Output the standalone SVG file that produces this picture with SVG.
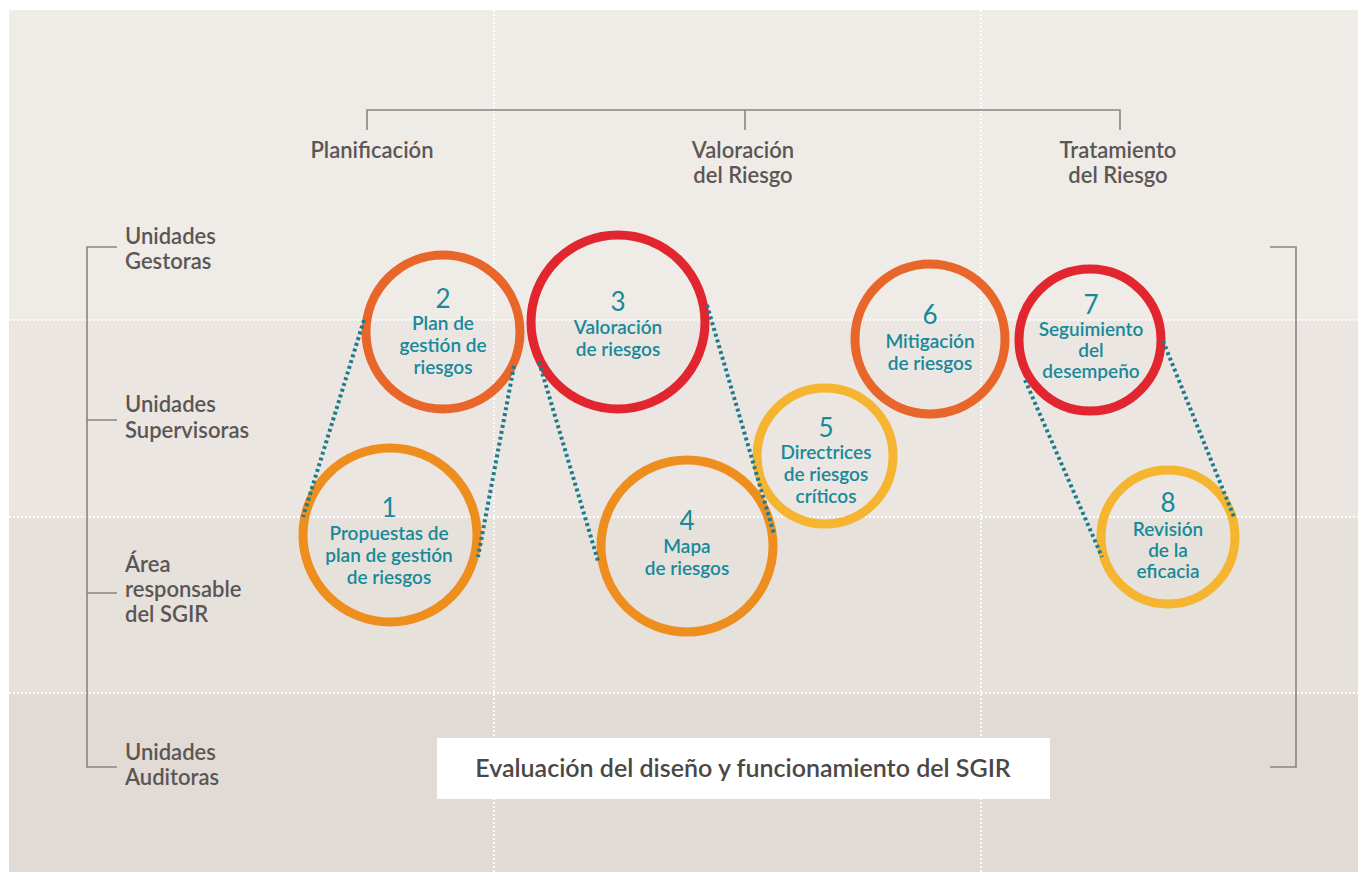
<svg xmlns="http://www.w3.org/2000/svg" width="1358" height="872" viewBox="0 0 1358 872">
<style>
.grid{stroke:#ffffff;stroke-width:2;stroke-dasharray:2 2;opacity:0.85;fill:none}
.brk{stroke:#8a8482;stroke-width:1.6;fill:none}
.hdr{font-family:Lato,"Liberation Sans",sans-serif;font-size:22px;font-weight:600;fill:#5b5656;text-anchor:middle}
.lbl{font-family:Lato,"Liberation Sans",sans-serif;font-size:22px;font-weight:600;fill:#5b5656}
.ring{fill:none;stroke-width:9}
.c-or{stroke:#e9662a}
.c-rd{stroke:#e1262f}
.c-am{stroke:#ee8e1f}
.c-ye{stroke:#f5b530}
.num{font-family:Lato,"Liberation Sans",sans-serif;font-size:26px;fill:#17899a;text-anchor:middle}
.txt{font-family:Lato,"Liberation Sans",sans-serif;font-size:19px;font-weight:600;fill:#17899a;text-anchor:middle}
.dot{stroke:#1c7c8c;stroke-width:4;stroke-dasharray:3 3;fill:none}
.eval{font-family:Lato,"Liberation Sans",sans-serif;font-size:25px;font-weight:600;fill:#4c4747;text-anchor:middle}
</style>
<g id="background">
<rect x="0" y="0" width="1358" height="872" fill="#ffffff"/>
<rect x="9" y="10" width="1349" height="310" fill="#efebe6"/>
<rect x="9" y="320" width="1349" height="197" fill="#ebe6e1"/>
<rect x="9" y="517" width="1349" height="176" fill="#e7e1db"/>
<rect x="9" y="693" width="1349" height="179" fill="#e2dad4"/>
<line class="grid" x1="9" y1="320" x2="1358" y2="320"/>
<line class="grid" x1="9" y1="517" x2="1358" y2="517"/>
<line class="grid" x1="9" y1="693" x2="1358" y2="693"/>
<line class="grid" x1="494" y1="10" x2="494" y2="872"/>
<line class="grid" x1="981" y1="10" x2="981" y2="872"/>
</g>
<g id="phases">
<path class="brk" d="M367,130 V110 H1120 V130 M745,110 V130"/>
<text class="hdr" x="372" y="158">Planificación</text>
<text class="hdr" x="743" y="158">Valoración</text>
<text class="hdr" x="743" y="183">del Riesgo</text>
<text class="hdr" x="1118" y="158">Tratamiento</text>
<text class="hdr" x="1118" y="183">del Riesgo</text>
</g>
<g id="roles">
<path class="brk" d="M117,247 H87 V767 H117 M87,420 H117 M87,593 H117"/>
<path class="brk" d="M1270,247 H1296 V767 H1270"/>
<text class="lbl" x="125" y="244">Unidades</text>
<text class="lbl" x="125" y="269">Gestoras</text>
<text class="lbl" x="125" y="412">Unidades</text>
<text class="lbl" x="125" y="438">Supervisoras</text>
<text class="lbl" x="125" y="572">Área</text>
<text class="lbl" x="125" y="597">responsable</text>
<text class="lbl" x="125" y="622">del SGIR</text>
<text class="lbl" x="125" y="760">Unidades</text>
<text class="lbl" x="125" y="785">Auditoras</text>
</g>
<g id="node1">
<circle class="ring c-am" cx="390" cy="535" r="87"/>
<text class="num" x="389" y="517">1</text>
<text class="txt" x="389" y="540">Propuestas de</text>
<text class="txt" x="389" y="562">plan de gestión</text>
<text class="txt" x="389" y="584">de riesgos</text>
</g>
<g id="node2">
<circle class="ring c-or" cx="443" cy="332" r="77"/>
<text class="num" x="443" y="308">2</text>
<text class="txt" x="443" y="330">Plan de</text>
<text class="txt" x="443" y="352">gestión de</text>
<text class="txt" x="443" y="374">riesgos</text>
</g>
<g id="node3">
<circle class="ring c-rd" cx="618" cy="322" r="87"/>
<text class="num" x="618" y="311">3</text>
<text class="txt" x="618" y="334">Valoración</text>
<text class="txt" x="618" y="356">de riesgos</text>
</g>
<g id="node4">
<circle class="ring c-am" cx="687" cy="546" r="86"/>
<text class="num" x="687" y="530">4</text>
<text class="txt" x="687" y="553">Mapa</text>
<text class="txt" x="687" y="575">de riesgos</text>
</g>
<g id="node5">
<circle class="ring c-ye" cx="825" cy="456" r="68"/>
<text class="num" x="826" y="437">5</text>
<text class="txt" x="826" y="459">Directrices</text>
<text class="txt" x="826" y="481">de riesgos</text>
<text class="txt" x="826" y="503">críticos</text>
</g>
<g id="node6">
<circle class="ring c-or" cx="930" cy="339" r="75"/>
<text class="num" x="930" y="324">6</text>
<text class="txt" x="930" y="348">Mitigación</text>
<text class="txt" x="930" y="370">de riesgos</text>
</g>
<g id="node7">
<circle class="ring c-rd" cx="1090" cy="340" r="71"/>
<text class="num" x="1091" y="314">7</text>
<text class="txt" x="1091" y="336">Seguimiento</text>
<text class="txt" x="1091" y="357">del</text>
<text class="txt" x="1091" y="378">desempeño</text>
</g>
<g id="node8">
<circle class="ring c-ye" cx="1168" cy="537" r="67"/>
<text class="num" x="1168" y="512">8</text>
<text class="txt" x="1168" y="536">Revisión</text>
<text class="txt" x="1168" y="557">de la</text>
<text class="txt" x="1168" y="578">eficacia</text>
</g>
<g id="connectors">
<line class="dot" x1="364" y1="320" x2="303" y2="517"/>
<line class="dot" x1="514" y1="366" x2="478" y2="557"/>
<line class="dot" x1="539" y1="362" x2="598" y2="561"/>
<line class="dot" x1="707" y1="305" x2="774" y2="534"/>
<line class="dot" x1="1025" y1="380" x2="1102" y2="557"/>
<line class="dot" x1="1163" y1="341" x2="1234" y2="517"/>
</g>
<g id="evaluation">
<rect x="437" y="738" width="613" height="61" fill="#ffffff"/>
<text class="eval" x="743" y="777">Evaluación del diseño y funcionamiento del SGIR</text>
</g>
</svg>
